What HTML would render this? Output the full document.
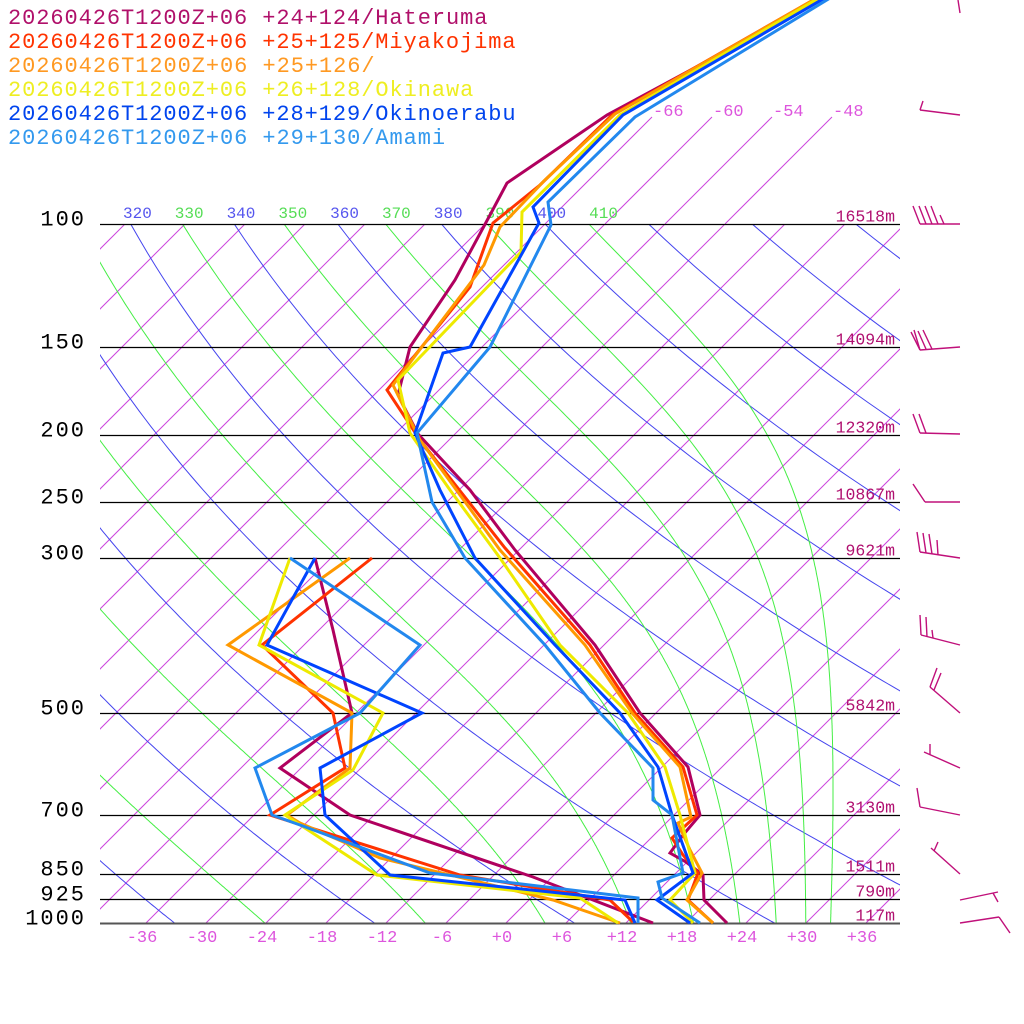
<!DOCTYPE html>
<html><head><meta charset="utf-8"><style>
html,body{margin:0;padding:0;background:#fff;width:1024px;height:1024px;overflow:hidden}
svg{display:block}
text{font-family:"Liberation Mono","DejaVu Sans Mono",monospace}
</style></head><body>
<svg id="s" xmlns="http://www.w3.org/2000/svg" width="1024" height="1024" viewBox="0 0 1024 1024">
<defs>
<clipPath id="c1"><rect x="100" y="224" width="800" height="699"/></clipPath>
<clipPath id="c3"><rect x="100" y="190" width="800" height="40"/></clipPath>
</defs>
<g id="grid" clip-path="url(#c1)"></g>
<g id="top"></g>
<g id="lab" clip-path="url(#c3)"></g>
<g id="hl"></g>
<g id="ser"></g>
<g id="txt"></g>
</svg>
<script>
var NS="http://www.w3.org/2000/svg";
function el(par,tag,attrs,text){var e=document.createElementNS(NS,tag);for(var k in attrs)e.setAttribute(k,attrs[k]);if(text!==undefined)e.textContent=text;document.getElementById(par).appendChild(e);return e;}
function Y(p){return 923-303.5*Math.log(1000/p);}
function X(T,y){return 506+10*T+(923-y);}
for(var T=-150;T<=60;T+=6){
  el("grid","line",{x1:X(T,923),y1:923,x2:X(T,224),y2:224,stroke:"#cc44dd","stroke-width":1});
}
[-66,-60,-54,-48].forEach(function(T){
  el("top","line",{x1:X(T,224),y1:224,x2:X(T,117),y2:117,stroke:"#cc44dd","stroke-width":1});
  el("txt","text",{x:X(T,117)+1,y:116,fill:"#dd55dd","font-size":"17"},String(T));
});
for(var th=200;th<=520;th+=20){
  var d="";
  for(var p=1000;p>=95;p-=5){var y=Y(p);var t=th*Math.pow(p/1000,0.2857)-273.15;d+=(d?"L":"M")+X(t,y).toFixed(1)+","+y.toFixed(1);}
  el("grid","path",{d:d,fill:"none",stroke:"#4444ee","stroke-width":1});
}
function es(tc){return 6.112*Math.exp(17.67*tc/(tc+243.5));}
function dTdp(Tk,p){var tc=Tk-273.15;var e=es(tc);var rs=0.622*e/(p-e);var Lv=2.5e6,Rd=287,cp=1005;
 return (Rd*Tk+Lv*rs)/(p*(cp+Lv*Lv*rs*0.622/(Rd*Tk*Tk)));}
for(var th=230;th<=410;th+=20){
  var p=100,Tk=th*Math.pow(0.1,0.2857);var pts=[];
  while(p<=1000.01){var y=Y(p);pts.push((X(Tk-273.15,y)-(th>=350?(th-330)/10:0)).toFixed(1)+","+y.toFixed(1));var dp=2;Tk+=dTdp(Tk,p)*dp;p+=dp;}
  el("grid","path",{d:"M"+pts.join("L"),fill:"none",stroke:"#44ee44","stroke-width":1});
}
for(var th=310;th<=410;th+=10){
  var t=th*Math.pow(0.1,0.2857)-273.15;var x=X(t,224);
  el("lab","text",{x:x-8,y:218,fill:(th%20==0)?"#5555ee":"#55dd55","font-size":"16"},String(th));
}
var levs=[[100,"100","16518m"],[150,"150","14094m"],[200,"200","12320m"],[250,"250","10867m"],[300,"300","9621m"],[500,"500","5842m"],[700,"700","3130m"],[850,"850","1511m"],[925,"925","790m"],[1000,"1000","117m"]];
levs.forEach(function(l){var y=Math.round(Y(l[0]))+0.5;
 el("hl","line",{x1:100,y1:y,x2:900,y2:y,stroke:l[0]==1000?"#555":"#000","stroke-width":l[0]==1000?2:1.3});
 el("txt","text",{x:86,y:y+1,fill:"#000","font-size":"22","text-anchor":"end","letter-spacing":"2"},l[1]);
 el("txt","text",{x:895,y:y-3,fill:"#b01070","font-size":"16.5","text-anchor":"end"},l[2]);
});
for(var T=-36;T<=36;T+=6){var s=T>0?"+"+T:(T==0?"+0":String(T));
 el("txt","text",{x:506+10*T-4,y:942,fill:"#dd55dd","font-size":"17","text-anchor":"middle"},s);}
var cols=["#b0005e","#ff3300","#ff9900","#eeea00","#0044ff","#2288ee"];
var Tp=[
 [[830,-5],[607,115],[507,183],[490,215],[455,280],[410,347],[398,395],[418,434],[470,490],[515,550],[595,645],[640,713],[688,767],[700,815],[683,835],[670,853],[686,862],[703,875],[704,900],[727,923]],
 [[822,-5],[612,115],[540,185],[493,223],[470,287],[387,390],[420,440],[505,548],[590,645],[635,713],[683,767],[697,815],[672,838],[683,855],[698,873],[688,900],[713,923]],
 [[822,-5],[615,114],[545,180],[500,227],[484,265],[393,385],[420,440],[500,550],[585,645],[632,713],[680,767],[691,817],[678,823],[690,850],[702,873],[687,900],[713,923]],
 [[824,-5],[620,115],[522,212],[521,252],[398,380],[410,433],[450,490],[500,558],[560,645],[628,713],[665,767],[680,815],[695,873],[670,900],[693,923]],
 [[830,-5],[623,115],[533,207],[539,223],[470,347],[443,353],[415,433],[440,490],[475,558],[555,645],[620,713],[658,767],[672,815],[693,873],[657,900],[690,923]],
 [[835,-5],[635,117],[548,202],[551,225],[490,347],[417,433],[432,502],[465,558],[545,645],[600,713],[653,768],[653,800],[672,815],[683,873],[658,882],[662,898],[700,923]]
];
var Td=[
 [[315,558],[333,630],[352,713],[280,768],[350,815],[533,877],[567,890],[653,923]],
 [[372,558],[262,645],[333,713],[345,768],[270,815],[460,875],[610,900],[633,922]],
 [[350,558],[228,645],[352,713],[350,768],[287,815],[300,823],[380,858],[500,887],[553,900],[620,923]],
 [[290,558],[259,645],[383,713],[353,770],[285,815],[377,875],[580,898],[618,923]],
 [[315,558],[267,645],[422,713],[320,768],[325,815],[390,875],[625,900],[635,923]],
 [[290,558],[420,645],[360,713],[255,768],[272,815],[300,825],[430,873],[638,898],[638,923]]
];
function pl(a,c){el("ser","polyline",{points:a.map(function(q){return q.join(",")}).join(" "),fill:"none",stroke:c,"stroke-width":3});}
for(var i=0;i<6;i++){pl(Td[i],cols[i]);}
for(var i=0;i<6;i++){pl(Tp[i],cols[i]);}
var leg=["20260426T1200Z+06 +24+124/Hateruma","20260426T1200Z+06 +25+125/Miyakojima","20260426T1200Z+06 +25+126/","20260426T1200Z+06 +26+128/Okinawa","20260426T1200Z+06 +28+129/Okinoerabu","20260426T1200Z+06 +29+130/Amami"];
var lc=["#b0106a","#ff3300","#ff9922","#eeee22","#0044ee","#3399ee"];
leg.forEach(function(s,i){el("txt","text",{x:8,y:24+i*24,fill:lc[i],"font-size":"22",textLength:(s.length*14.1).toFixed(1),lengthAdjust:"spacing"},s);});
var bw=[[958,0,960,13],[960,115,920,110],[920,110,923,101],
[960,224,920,224],[920,224,913,206],[926,224,919,206],[932,224,925,206],[938,224,931,206],[944,224,940,215],
[960,347,920,350],[920,350,911,332],[920,350,914,330],[926,349,918,331],[932,349,923,330],
[960,434,920,433],[920,433,913,414],[926,433,919,414],
[960,502,925,502],[925,502,913,484],
[960,558,920,552],[920,552,917,532],[926,553,923,533],[932,554,929,534],[938,555,937,540],
[960,645,921,635],[921,635,920,615],[927,637,926,617],[933,638,932,630],
[960,713,930,687],[930,687,937,668],[934,690,941,673],
[960,768,924,752],[930,755,930,744],
[960,815,920,807],[920,807,917,788],
[960,874,931,848],[934,851,938,842],
[960,900,998,892],[993,893,998,902],
[960,923,999,917],[999,917,1010,933]];
bw.forEach(function(b){el("txt","line",{x1:b[0],y1:b[1],x2:b[2],y2:b[3],stroke:"#c0107a","stroke-width":1.4});});
</script>
</body></html>
